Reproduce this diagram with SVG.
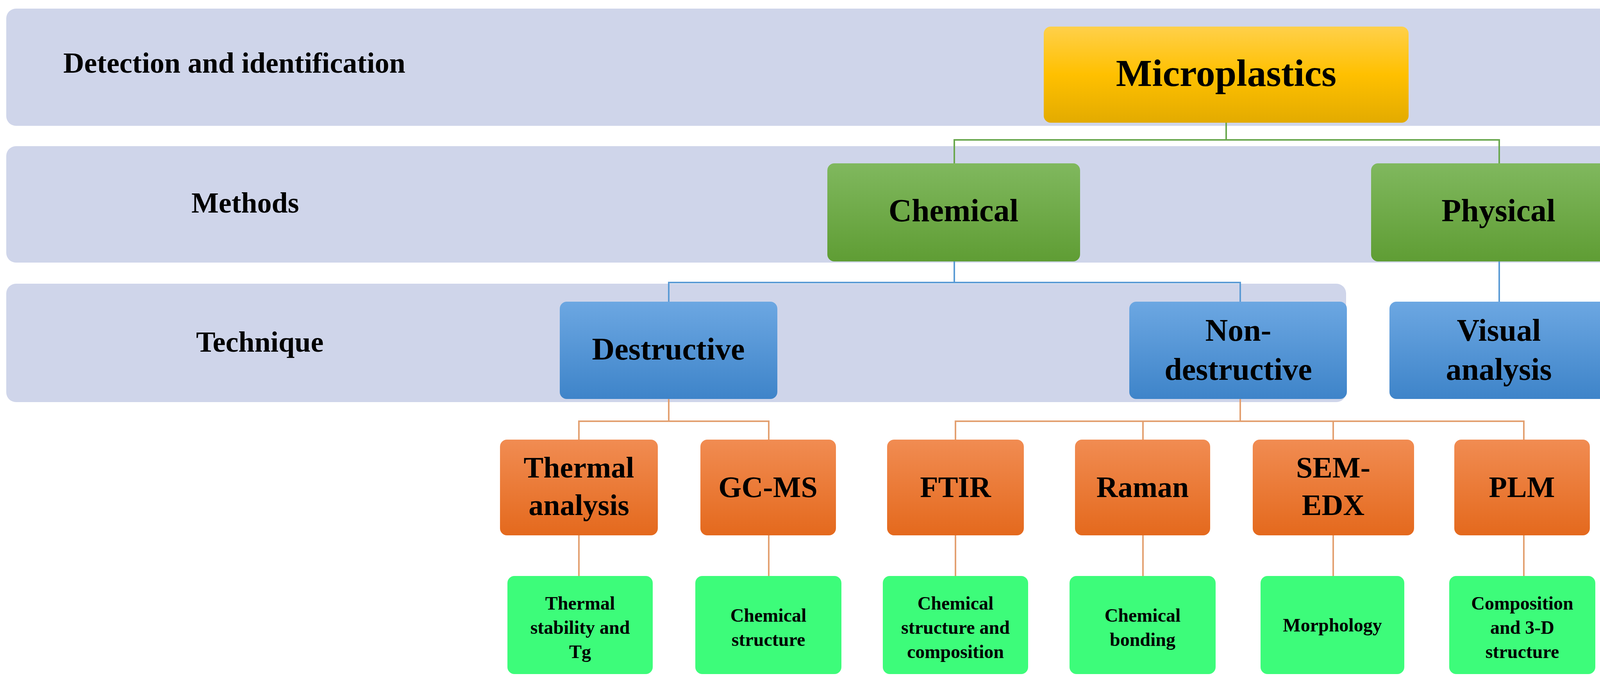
<svg xmlns="http://www.w3.org/2000/svg" width="4280" height="1753" viewBox="0 0 4280 1753">
<defs>
<linearGradient id="gy" x1="0" y1="0" x2="0" y2="1"><stop offset="0" stop-color="#ffd04a"/><stop offset="0.5" stop-color="#ffc000"/><stop offset="1" stop-color="#e3ab00"/></linearGradient>
<linearGradient id="gg" x1="0" y1="0" x2="0" y2="1"><stop offset="0" stop-color="#80b85e"/><stop offset="1" stop-color="#5f9d34"/></linearGradient>
<linearGradient id="gb" x1="0" y1="0" x2="0" y2="1"><stop offset="0" stop-color="#6ca7e2"/><stop offset="1" stop-color="#3e84c9"/></linearGradient>
<linearGradient id="go" x1="0" y1="0" x2="0" y2="1"><stop offset="0" stop-color="#f18c52"/><stop offset="1" stop-color="#e4691d"/></linearGradient>
<style>
.band{fill:#cfd5ea}
.t{font-family:"Liberation Serif",serif;font-weight:bold;fill:#000;text-anchor:middle}
.lab{font-family:"Liberation Serif",serif;font-weight:bold;fill:#000;font-size:74px}
.cg{stroke:#6aa84f;stroke-width:4;fill:none}
.cb{stroke:#5b9bd5;stroke-width:4;fill:none}
.co{stroke:#e3a070;stroke-width:4;fill:none}
</style>
</defs>
<rect width="4280" height="1753" fill="#fff"/>
<g id="bands">
<rect class="band" x="16" y="22" width="4244" height="300" rx="25"/>
<rect class="band" x="16" y="374" width="4244" height="298" rx="25"/>
<rect class="band" x="16" y="726" width="3430" height="303" rx="25"/>
<text class="lab" x="162" y="186">Detection and identification</text>
<text class="lab" x="490" y="544">Methods</text>
<text class="lab" x="502" y="900">Technique</text>
</g>
<g id="connectors">
<path class="cg" d="M3139 314V358M2443 418V358H3838V418"/>
<path class="cb" d="M2443 669V723M1712 772V723H3175V772M3838 669V772"/>
<path class="co" d="M1712 1021V1078M1482 1125V1078H1968V1125M3175 1021V1078M2446 1125V1078H3901V1125M2926 1078V1125M3413 1078V1125"/>
<path class="co" d="M1482 1370V1474M1968 1370V1474M2446 1370V1474M2926 1370V1474M3413 1370V1474M3901 1370V1474"/>
</g>
<g id="microplastics"><rect x="2672" y="68" width="934" height="246" rx="18" fill="url(#gy)"/><text class="t" x="3139" y="220" font-size="98">Microplastics</text></g>
<g id="chemical"><rect x="2118" y="418" width="647" height="251" rx="18" fill="url(#gg)"/><text class="t" x="2441" y="566" font-size="82">Chemical</text></g>
<g id="physical"><rect x="3510" y="418" width="653" height="251" rx="18" fill="url(#gg)"/><text class="t" x="3836" y="566" font-size="82">Physical</text></g>
<g id="destructive"><rect x="1433" y="772" width="557" height="249" rx="18" fill="url(#gb)"/><text class="t" x="1711" y="920" font-size="80">Destructive</text></g>
<g id="nondestructive"><rect x="2891" y="772" width="557" height="249" rx="18" fill="url(#gb)"/><text class="t" x="3170" y="872" font-size="80">Non-</text><text class="t" x="3170" y="972" font-size="80">destructive</text></g>
<g id="visual"><rect x="3557" y="772" width="560" height="249" rx="18" fill="url(#gb)"/><text class="t" x="3837" y="872" font-size="80">Visual</text><text class="t" x="3837" y="972" font-size="80">analysis</text></g>
<g id="thermal"><rect x="1280" y="1125" width="404" height="245" rx="18" fill="url(#go)"/><text class="t" x="1482" y="1222" font-size="76">Thermal</text><text class="t" x="1482" y="1318" font-size="76">analysis</text></g>
<g id="gcms"><rect x="1793" y="1125" width="347" height="245" rx="18" fill="url(#go)"/><text class="t" x="1966" y="1272" font-size="76">GC-MS</text></g>
<g id="ftir"><rect x="2271" y="1125" width="350" height="245" rx="18" fill="url(#go)"/><text class="t" x="2446" y="1272" font-size="76">FTIR</text></g>
<g id="raman"><rect x="2752" y="1125" width="346" height="245" rx="18" fill="url(#go)"/><text class="t" x="2925" y="1272" font-size="76">Raman</text></g>
<g id="semedx"><rect x="3207" y="1125" width="413" height="245" rx="18" fill="url(#go)"/><text class="t" x="3413" y="1222" font-size="76">SEM-</text><text class="t" x="3413" y="1318" font-size="76">EDX</text></g>
<g id="plm"><rect x="3723" y="1125" width="347" height="245" rx="18" fill="url(#go)"/><text class="t" x="3896" y="1272" font-size="76">PLM</text></g>
<g id="g1"><rect x="1299" y="1474" width="372" height="251" rx="18" fill="#3dfc7a"/><text class="t" x="1485" y="1560" font-size="48">Thermal</text><text class="t" x="1485" y="1622" font-size="48">stability and</text><text class="t" x="1485" y="1684" font-size="48">Tg</text></g>
<g id="g2"><rect x="1780" y="1474" width="374" height="251" rx="18" fill="#3dfc7a"/><text class="t" x="1967" y="1591" font-size="48">Chemical</text><text class="t" x="1967" y="1653" font-size="48">structure</text></g>
<g id="g3"><rect x="2260" y="1474" width="372" height="251" rx="18" fill="#3dfc7a"/><text class="t" x="2446" y="1560" font-size="48">Chemical</text><text class="t" x="2446" y="1622" font-size="48">structure and</text><text class="t" x="2446" y="1684" font-size="48">composition</text></g>
<g id="g4"><rect x="2738" y="1474" width="374" height="251" rx="18" fill="#3dfc7a"/><text class="t" x="2925" y="1591" font-size="48">Chemical</text><text class="t" x="2925" y="1653" font-size="48">bonding</text></g>
<g id="g5"><rect x="3227" y="1474" width="368" height="251" rx="18" fill="#3dfc7a"/><text class="t" x="3411" y="1616" font-size="48">Morphology</text></g>
<g id="g6"><rect x="3710" y="1474" width="374" height="251" rx="18" fill="#3dfc7a"/><text class="t" x="3897" y="1560" font-size="48">Composition</text><text class="t" x="3897" y="1622" font-size="48">and 3-D</text><text class="t" x="3897" y="1684" font-size="48">structure</text></g>
</svg>
